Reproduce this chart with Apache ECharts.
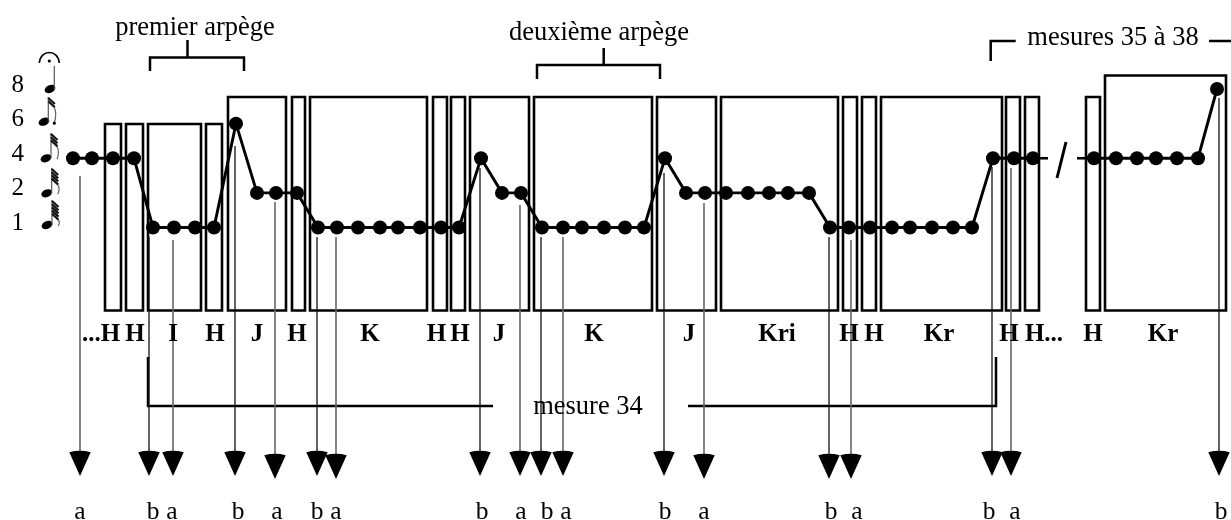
<!DOCTYPE html>
<html><head><meta charset="utf-8">
<style>html,body{margin:0;padding:0;background:#fff}#c{width:1231px;height:520px}</style>
<script src="https://cdn.jsdelivr.net/npm/echarts@6/dist/echarts.min.js"></script>
</head><body><div id="c"></div>
<script>
// Duration scale (levels are equally spaced)
const levelLabels = ['1','2','4','6','8'];
// Melodic onsets: time position, duration level index
const dotTimes1  = [73,92,113,134,153,174,195,214,236,257,276,297,318,337,358,380,398,420,441,459,481,502,521,542,563,582,604,625,644,665,686,705,726,748,769,788,809,830,849,870,892,910,932,953,972,993,1014,1033];
const dotLevels1 = [2,2,2,2,0,0,0,0,3,1,1,1,0,0,0,0,0,0,0,0,2,1,1,0,0,0,0,0,0,2,1,1,1,1,1,1,1,0,0,0,0,0,0,0,0,2,2,2];
const dotTimes2  = [1094,1116,1137,1156,1177,1198,1217];
const dotLevels2 = [2,2,2,2,2,2,4];
const breakTimes = [[1033,1048],[1077,1094]];
// Boxes
const boxStart = [105,126,148,206,228,292,310,433,451,470,534,657,721,843,862,881,1006,1025,1086,1105];
const boxEnd   = [121,143,201,222,286,305,427,447,465,529,652,716,838,857,876,1002,1020,1039,1100,1226];
const boxTop   = [124,124,124,124,97,97,97,97,97,97,97,97,97,97,97,97,97,97,97,75.5];
const boxBottom = 310.5;
// Section labels
const sectionNames = ['...H','H','I','H','J','H','K','H','H','J','K','J','Kri','H','H','Kr','H','H...','H','Kr'];
const sectionX = [101,135,173,215,257,297,370,436.5,460,499,594,689,777,849,874,939,1009,1044,1093,1163];
// Arrows
const arrowTypes = ['a','b','a','b','a','b','a','b','a','b','a','b','a','b','a','b','a','b'];
const arrowX     = [80,149,173,235,275,317,336,480,520,541,563,664,704,829,851,992,1011,1219];
const arrowFrom  = [176,237,240,146,202,237,237,168,205,237,237,173,203,237,240,167,168,98];
const arrowHeadTop=[451,451,451,451,454,451,454,451,451,451,451,451,454,454,454,451,451,451];
const letterX    = [80,153,172,238,277,317,336,482,521,547,566,665,704,831,857,989,1015,1221];
// Annotation
const annotationTexts = ['premier arpège','deuxième arpège','mesures 35 à 38','mesure 34'];
const annotationX = [195,599,1113,588];
const annotationY = [28,33.5,38,407];
const bracketPaths = [
 [[150,71],[150,57.5],[244,57.5],[244,71]], [[187.5,40],[187.5,57.5]],
 [[537,79],[537,65],[660,65],[660,79]], [[603.7,48],[603.7,65]],
 [[990.7,61],[990.7,41],[1015.7,41]], [[1209,41],[1231,41]],
 [[148,357],[148,406],[493,406]], [[688,406],[996,406],[996,357]]
];
const slash = [[1066,142],[1057,178]];
// Note glyphs beside the level axis
const noteHeadX = [47,46.7,46,44,50];
const noteHeadY = [225,193.3,158.3,121.7,89];
const noteStemX = [52,51.7,51,48.3,54.3];
const noteStemTop = [200,168,133,97,66];
const noteFlags = [5,4,3,2,0];

const serif = '"Liberation Serif","Times New Roman",serif';
const chart = echarts.init(document.getElementById('c'));

function custom(data, renderItem, z){
  return {type:'custom', xAxisIndex:0, yAxisIndex:1, data, renderItem, clip:false, silent:true, z:z||2, animation:false};
}
function textEl(api,x,y,t,size,weight){
  const c=api.coord([x,y]);
  return {type:'text',style:{x:c[0],y:c[1],text:t,fill:'#000',font:(weight?weight+' ':'')+size+'px '+serif,align:'center',verticalAlign:'middle'}};
}

const option = {
  animation:false,
  backgroundColor:'#fff',
  grid:{left:33,right:0,top:89,height:138.5,containLabel:false},
  xAxis:{type:'value',min:33,max:1231,show:false},
  yAxis:[
    {type:'value',min:0,max:4,interval:1,axisLine:{show:false},axisTick:{show:false},splitLine:{show:false},
     axisLabel:{margin:9,color:'#000',fontFamily:serif,fontSize:25,verticalAlign:'bottom',lineHeight:8,formatter:v=>levelLabels[v]}},
    {type:'value',min:89,max:227.5,inverse:true,show:false}
  ],
  series:[
    custom(boxStart.map((s,i)=>[s,boxEnd[i],boxTop[i]]),(p,api)=>{
      const a=api.coord([api.value(0),api.value(2)]), b=api.coord([api.value(1),boxBottom]);
      return {type:'rect',shape:{x:a[0],y:a[1],width:b[0]-a[0],height:b[1]-a[1]},style:{fill:'none',stroke:'#000',lineWidth:2.6}};
    },2),
    custom(bracketPaths.map((_,i)=>[i]),(p,api)=>{
      const pts=bracketPaths[api.value(0)].map(q=>api.coord(q));
      return {type:'polyline',shape:{points:pts},style:{fill:'none',stroke:'#000',lineWidth:2.5}};
    },2),
    custom(arrowX.map((x,i)=>[x,arrowFrom[i],arrowHeadTop[i],arrowTypes[i]==='a'?1:0]),(p,api)=>{
      const x=api.value(0), s=api.coord([x,api.value(1)]), t=api.coord([x,api.value(2)]);
      const gray=api.value(3)===1;
      const hw=10.7, hl=25;
      return {type:'group',children:[
        {type:'line',shape:{x1:s[0],y1:s[1],x2:t[0],y2:t[1]+2},style:{stroke:gray?'#666':'#111',lineWidth:gray?1.6:1.3}},
        {type:'path',shape:{pathData:`M${t[0]-hw} ${t[1]+1.2} Q${t[0]} ${t[1]-1.6} ${t[0]+hw} ${t[1]+1.2} L${t[0]} ${t[1]+hl} Z`},style:{fill:'#000'}}
      ]};
    },3),
    ...breakTimes.map(seg=>({type:'line',yAxisIndex:0,data:seg.map(t=>[t,2]),symbol:'none',clip:false,silent:true,z:4,
      lineStyle:{color:'#000',width:2.6}})),
    {type:'line',yAxisIndex:1,data:slash,symbol:'none',clip:false,silent:true,z:4,lineStyle:{color:'#000',width:3}},
    {type:'line',yAxisIndex:0,data:dotTimes1.map((t,i)=>[t,dotLevels1[i]]),symbol:'circle',symbolSize:14,clip:false,silent:true,z:5,
      lineStyle:{color:'#000',width:2.9},itemStyle:{color:'#000'}},
    {type:'line',yAxisIndex:0,data:dotTimes2.map((t,i)=>[t,dotLevels2[i]]),symbol:'circle',symbolSize:14,clip:false,silent:true,z:5,
      lineStyle:{color:'#000',width:2.9},itemStyle:{color:'#000'}},
    custom(sectionNames.map((n,i)=>[sectionX[i],n]),(p,api)=>textEl(api,api.value(0),335,sectionNames[p.dataIndex],25,'bold'),6),
    custom(arrowTypes.map((n,i)=>[letterX[i],n]),(p,api)=>textEl(api,api.value(0),512.5,arrowTypes[p.dataIndex],25.5),6),
    custom(annotationTexts.map((n,i)=>[annotationX[i],annotationY[i]]),(p,api)=>textEl(api,api.value(0),api.value(1),annotationTexts[p.dataIndex],26.5),6),
    custom(noteHeadX.map((x,i)=>[x,noteHeadY[i],noteStemX[i],noteStemTop[i],noteFlags[i],i]),(p,api)=>{
      const hx=api.value(0), hy=api.value(1), sx=api.value(2), top=api.value(3), fl=api.value(4), i=api.value(5);
      const h=api.coord([hx,hy]), s=api.coord([sx,top]);
      const kids=[
        {type:'ellipse',shape:{cx:h[0],cy:h[1],rx:5.6,ry:3.8},rotation:0.42,originX:h[0],originY:h[1],style:{fill:'#000'}},
        {type:'line',shape:{x1:s[0],y1:s[1],x2:s[0],y2:h[1]},style:{stroke:'#555',lineWidth:1.2}}
      ];
      for(let k=0;k<fl;k++){
        const y0=s[1]+1+k*3.2;
        kids.push({type:'line',shape:{x1:s[0],y1:y0,x2:s[0]+6.5,y2:y0+6},style:{stroke:'#111',lineWidth:2.2}});
      }
      if(fl>0){
        const ye=s[1]+1+(fl-1)*3.2+6, end=h[1]+1;
        kids.push({type:'path',shape:{pathData:`M${s[0]+6} ${ye} C${s[0]+8} ${ye+(end-ye)*0.3} ${s[0]+8} ${ye+(end-ye)*0.6} ${s[0]+6} ${end}`},style:{fill:'none',stroke:'#666',lineWidth:1.2}});
      }
      if(fl===2 && i===3) kids.push({type:'circle',shape:{cx:h[0]+10.3,cy:h[1]+1.5,r:1.6},style:{fill:'#000'}});
      if(fl===0){
        const cx=49.3;
        kids.push({type:'path',shape:{pathData:`M${cx-10} 63 C${cx-9} 49 ${cx+9} 49 ${cx+10} 63`},style:{fill:'none',stroke:'#000',lineWidth:1.6}});
        kids.push({type:'circle',shape:{cx:cx,cy:61,r:1.6},style:{fill:'#000'}});
      }
      return {type:'group',children:kids};
    },6)
  ]
};
chart.setOption(option);
</script></body></html>
